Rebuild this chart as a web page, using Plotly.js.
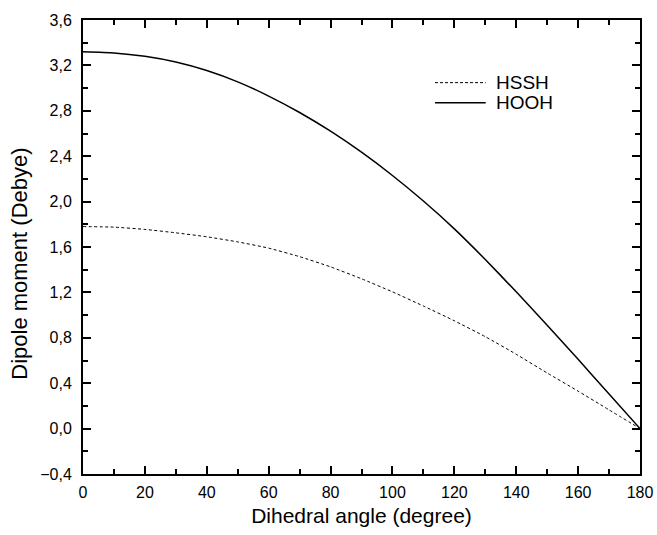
<!DOCTYPE html>
<html>
<head>
<meta charset="utf-8">
<script src="https://cdn.plot.ly/plotly-3.0.1.min.js"></script>
<style>html,body{margin:0;padding:0;background:#fff;}#chart{width:657px;height:535px;}</style>
</head>
<body>
<div id="chart"></div>
<script>
const angles = [0,10,20,30,40,50,60,70,80,90,100,110,120,130,140,150,160,170,180];
const hsshDipole = [1.78,1.775,1.755,1.725,1.69,1.645,1.59,1.515,1.425,1.32,1.205,1.08,0.95,0.81,0.655,0.49,0.33,0.165,0.00];
const hoohDipole = [3.32,3.31,3.28,3.23,3.155,3.055,2.93,2.785,2.62,2.435,2.23,2.005,1.76,1.49,1.205,0.91,0.61,0.305,0.00];
const seriesNames = ["HSSH","HOOH"];
const xTickVals = [0,20,40,60,80,100,120,140,160,180];
const yTickVals = [-0.4,0,0.4,0.8,1.2,1.6,2.0,2.4,2.8,3.2,3.6];
const xTitle = "Dihedral angle (degree)";
const yTitle = "Dipole moment (Debye)";

const font = "Liberation Sans, Arial, sans-serif";
const dashes = ["3px,2.5px", "solid"];
const widths = [1, 1.5];
const traces = seriesNames.map((n, i) => ({
  x: angles, y: i === 0 ? hsshDipole : hoohDipole, name: n, mode: "lines",
  line: {color: "#000", width: widths[i], dash: dashes[i], shape: "spline", smoothing: 0.5},
  showlegend: false
}));
// legend drawn as line samples + labels inside the plot
const legendRows = [0.862, 0.818];
const shapes = seriesNames.map((n, i) => ({
  type: "line", xref: "paper", yref: "paper", x0: 0.632, x1: 0.723, y0: legendRows[i], y1: legendRows[i],
  line: {color: "#000", width: widths[i], dash: i === 0 ? "3px,2px" : "solid"}
}));
const annotations = seriesNames.map((n, i) => ({
  text: n, xref: "paper", yref: "paper", x: 0.738, y: legendRows[i], xanchor: "left", yanchor: "middle",
  showarrow: false, font: {family: font, size: 19, color: "#000"}
}));
annotations.push({
  text: yTitle, xref: "paper", yref: "paper", x: -0.114, y: 0.462, textangle: -90,
  xanchor: "center", yanchor: "middle", showarrow: false, font: {family: font, size: 22, color: "#000"}
});

const axisCommon = {
  showgrid: false, zeroline: false, showline: true, linecolor: "#000", linewidth: 2,
  mirror: "allticks", ticks: "inside", ticklen: 8, tickwidth: 2, tickcolor: "#000",
  tickfont: {family: font, size: 16, color: "#000"}
};
const layout = {
  width: 657, height: 535,
  margin: {l: 82.5, r: 17, t: 20, b: 61},
  paper_bgcolor: "#fff", plot_bgcolor: "#fff",
  separators: ", ",
  font: {family: font, color: "#000"},
  xaxis: Object.assign({}, axisCommon, {
    range: [0, 180], tickvals: xTickVals, ticklabelstandoff: 3,
    minor: {dtick: 10, tick0: 0, ticks: "inside", ticklen: 5, tickwidth: 2, tickcolor: "#000"},
    title: {text: xTitle, font: {family: font, size: 21, color: "#000"}, standoff: 8}
  }),
  yaxis: Object.assign({}, axisCommon, {
    range: [-0.4, 3.6], tickvals: yTickVals, tickformat: ".1f", ticklabelstandoff: 6,
    minor: {dtick: 0.2, tick0: 0, ticks: "inside", ticklen: 5, tickwidth: 2, tickcolor: "#000"}
  }),
  showlegend: false,
  shapes: shapes,
  annotations: annotations
};
Plotly.newPlot("chart", traces, layout, {displayModeBar: false, staticPlot: true});
</script>
</body>
</html>
